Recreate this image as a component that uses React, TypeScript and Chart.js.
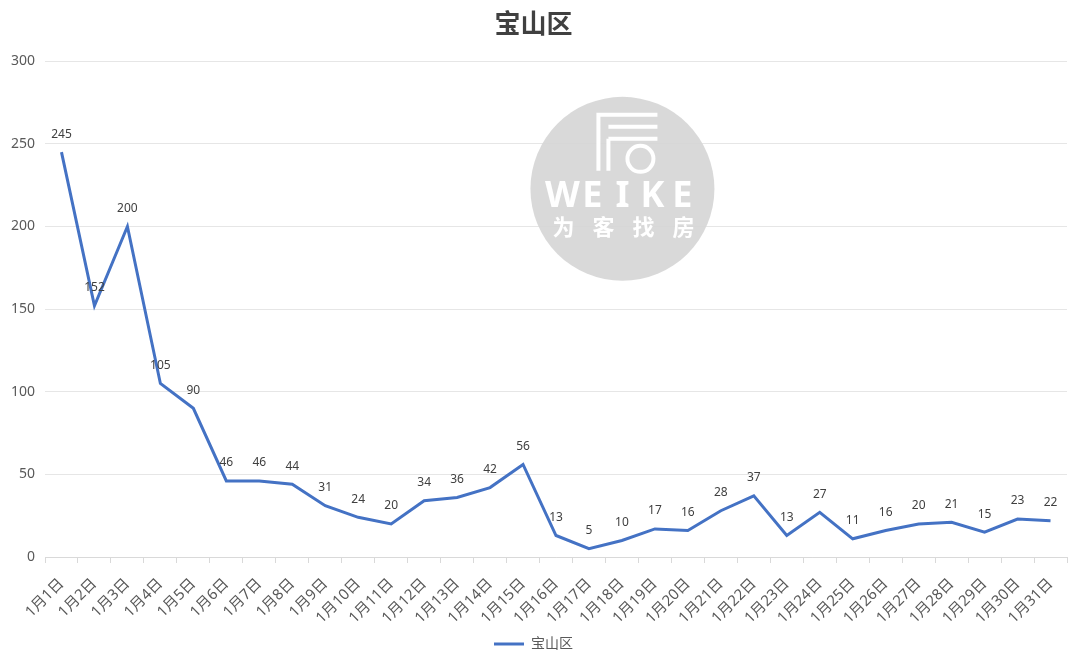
import React, { useEffect, useRef } from "react";
import { Chart, registerables } from "chart.js";

Chart.register(...registerables);

const TITLE = "宝山区";
const SERIES_NAME = "宝山区";
const categories: string[] = [
  "1月1日", "1月2日", "1月3日", "1月4日", "1月5日", "1月6日", "1月7日", "1月8日",
  "1月9日", "1月10日", "1月11日", "1月12日", "1月13日", "1月14日", "1月15日", "1月16日",
  "1月17日", "1月18日", "1月19日", "1月20日", "1月21日", "1月22日", "1月23日", "1月24日",
  "1月25日", "1月26日", "1月27日", "1月28日", "1月29日", "1月30日", "1月31日",
];
const values: number[] = [
  245, 152, 200, 105, 90, 46, 46, 44, 31, 24, 20, 34, 36, 42, 56, 13,
  5, 10, 17, 16, 28, 37, 13, 27, 11, 16, 20, 21, 15, 23, 22,
];
const Y_MIN = 0;
const Y_MAX = 300;
const Y_STEP = 50;

const FONT = '"Noto Sans", "Noto Sans CJK SC", sans-serif';

const labelPlugin = {
  id: "pointLabels",
  afterDatasetsDraw(chart: any) {
    const ctx = chart.ctx;
    const meta = chart.getDatasetMeta(0);
    ctx.save();
    ctx.font = `12px ${FONT}`;
    ctx.fillStyle = "#404040";
    ctx.textAlign = "center";
    ctx.textBaseline = "middle";
    meta.data.forEach((pt: any, i: number) => {
      ctx.fillText(String(values[i]), pt.x, pt.y - 18);
    });
    ctx.restore();
  },
};

const watermarkPlugin = {
  id: "watermark",
  beforeDatasetsDraw(chart: any) {
    const { ctx, chartArea } = chart;
    const cx = chartArea.left + (chartArea.right - chartArea.left) * 0.565;
    const cy = chartArea.top + (chartArea.bottom - chartArea.top) * 0.2575;
    const r = 92;
    ctx.save();
    ctx.beginPath();
    ctx.arc(cx, cy, r, 0, Math.PI * 2);
    ctx.fillStyle = "rgba(214,214,214,0.92)";
    ctx.fill();
    ctx.strokeStyle = "#ffffff";
    ctx.lineWidth = 4;
    ctx.lineCap = "butt";
    const ox = cx, oy = cy;
    ctx.beginPath();
    ctx.moveTo(ox - 24, oy - 76);
    ctx.lineTo(ox - 24, oy - 18);
    ctx.moveTo(ox - 24, oy - 74);
    ctx.lineTo(ox + 35, oy - 74);
    ctx.moveTo(ox - 14, oy - 62);
    ctx.lineTo(ox + 35, oy - 62);
    ctx.moveTo(ox - 14, oy - 50);
    ctx.lineTo(ox + 35, oy - 50);
    ctx.moveTo(ox - 14, oy - 50);
    ctx.lineTo(ox - 14, oy - 18);
    ctx.stroke();
    ctx.beginPath();
    ctx.arc(ox + 18, oy - 30, 13, 0, Math.PI * 2);
    ctx.stroke();
    ctx.fillStyle = "#ffffff";
    ctx.textAlign = "center";
    ctx.textBaseline = "middle";
    ctx.font = `bold 36px ${FONT}`;
    const word = "WEIKE";
    const step = 30;
    for (let i = 0; i < word.length; i++) {
      ctx.fillText(word[i], ox - 60 + i * step, oy + 8);
    }
    ctx.font = `bold 22px ${FONT}`;
    const cn = "为客找房";
    for (let i = 0; i < cn.length; i++) {
      ctx.fillText(cn[i], ox - 59 + i * 40, oy + 40);
    }
    ctx.restore();
  },
};

export default function App() {
  const ref = useRef<HTMLCanvasElement | null>(null);
  useEffect(() => {
    if (!ref.current) return;
    const chart = new Chart(ref.current, {
      type: "line",
      data: {
        labels: categories,
        datasets: [
          {
            label: SERIES_NAME,
            data: values,
            borderColor: "#4472C4",
            backgroundColor: "#4472C4",
            borderWidth: 3,
            pointRadius: 0,
            tension: 0,
            pointStyle: "line",
          },
        ],
      },
      options: {
        animation: false,
        responsive: false,
        maintainAspectRatio: false,
        layout: { padding: { left: 0, right: 13, top: 0, bottom: 0 } },
        plugins: {
          title: {
            display: true,
            text: TITLE,
            color: "#404040",
            font: { family: FONT, size: 26, weight: "bold" },
            padding: { top: 10, bottom: 20 },
          },
          legend: {
            position: "bottom",
            labels: {
              usePointStyle: true,
              pointStyle: "line",
              pointStyleWidth: 30,
              color: "#595959",
              font: { family: FONT, size: 14 },
              padding: 10,
            },
          },
          tooltip: { enabled: false },
        },
        scales: {
          x: {
            offset: true,
            grid: {
              offset: true,
              drawOnChartArea: false,
              drawTicks: true,
              tickLength: 6,
              color: "#d9d9d9",
            },
            border: { display: true, color: "#d9d9d9" },
            ticks: {
              autoSkip: false,
              maxRotation: 45,
              minRotation: 45,
              color: "#595959",
              font: { family: FONT, size: 15 },
              padding: 12,
            },
            afterFit(scale: any) {
              scale.height = 70;
            },
          },
          y: {
            min: Y_MIN,
            max: Y_MAX,
            ticks: {
              stepSize: Y_STEP,
              color: "#595959",
              font: { family: FONT, size: 14 },
              padding: 10,
            },
            grid: { color: "#e6e6e6", drawTicks: false },
            border: { display: false },
            afterFit(scale: any) {
              scale.width = 45;
            },
          },
        },
      },
      plugins: [watermarkPlugin, labelPlugin],
    });
    return () => chart.destroy();
  }, []);
  return (
    <div style={{ position: "fixed", left: 0, top: 0, width: 1080, height: 661, background: "#fff" }}>
      <canvas ref={ref} width={1080} height={661} style={{ width: 1080, height: 661 }} />
    </div>
  );
}
